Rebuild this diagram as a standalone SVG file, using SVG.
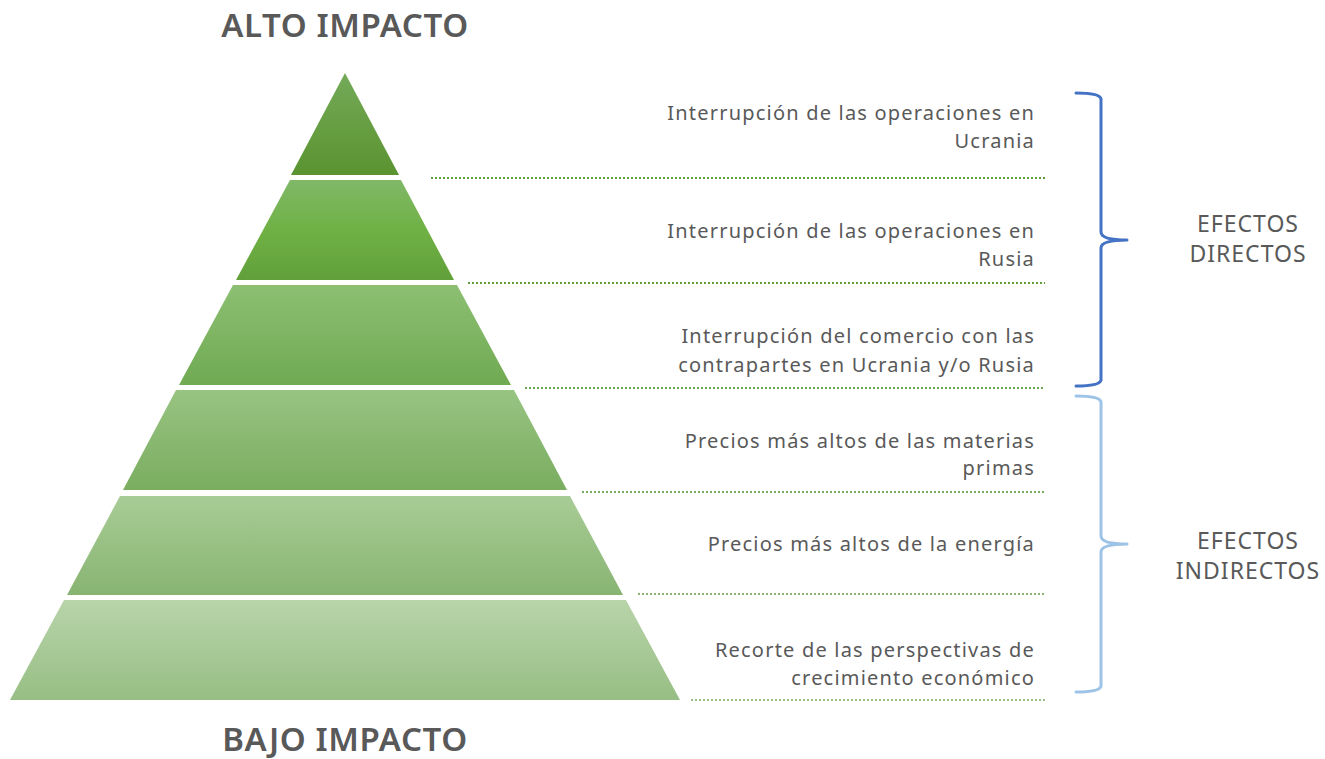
<svg xmlns="http://www.w3.org/2000/svg" width="1325" height="759" viewBox="0 0 1325 759">
<defs>
<linearGradient id="g1" x1="0" y1="0" x2="0" y2="1"><stop offset="0" stop-color="#74aa58"/><stop offset="1" stop-color="#5a9330"/></linearGradient>
<linearGradient id="g2" x1="0" y1="0" x2="0" y2="1"><stop offset="0" stop-color="#80b868"/><stop offset="0.5" stop-color="#70b145"/><stop offset="1" stop-color="#61a03a"/></linearGradient>
<linearGradient id="g3" x1="0" y1="0" x2="0" y2="1"><stop offset="0" stop-color="#8cbf72"/><stop offset="1" stop-color="#70aa52"/></linearGradient>
<linearGradient id="g4" x1="0" y1="0" x2="0" y2="1"><stop offset="0" stop-color="#98c482"/><stop offset="1" stop-color="#7aad60"/></linearGradient>
<linearGradient id="g5" x1="0" y1="0" x2="0" y2="1"><stop offset="0" stop-color="#a8cc96"/><stop offset="1" stop-color="#88b472"/></linearGradient>
<linearGradient id="g6" x1="0" y1="0" x2="0" y2="1"><stop offset="0" stop-color="#b8d4aa"/><stop offset="1" stop-color="#97be84"/></linearGradient>
</defs>
<style>
.lbl{font-family:"Noto Sans","Open Sans",sans-serif;font-size:20px;letter-spacing:1.2px;fill:#595959;text-anchor:end}
.hdr{font-family:"Noto Sans","Open Sans",sans-serif;font-size:33px;font-weight:600;letter-spacing:0.6px;fill:#595959;text-anchor:middle}
.grp{font-family:"Noto Sans","Open Sans",sans-serif;font-size:23px;letter-spacing:1px;fill:#595959;text-anchor:middle}
.dot{stroke-width:2;stroke-dasharray:2 2;fill:none}
.brace{fill:none;stroke-width:3;stroke-linecap:round;stroke-linejoin:round}
</style>
<rect width="1325" height="759" fill="#ffffff"/>
<text class="hdr" x="345" y="37">ALTO IMPACTO</text>
<text class="hdr" x="345" y="751">BAJO IMPACTO</text>
<g id="tier1"><polygon points="345,73 399,175 291,175" fill="url(#g1)"/></g>
<g id="tier2"><polygon points="290,180 401,180 454,280 236,280" fill="url(#g2)"/></g>
<g id="tier3"><polygon points="233,285 457,285 511,385 179,385" fill="url(#g3)"/></g>
<g id="tier4"><polygon points="176,390 514,390 567,490 123,490" fill="url(#g4)"/></g>
<g id="tier5"><polygon points="120,496 570,496 623,595 67,595" fill="url(#g5)"/></g>
<g id="tier6"><polygon points="64,600 626,600 680,700 10,700" fill="url(#g6)"/></g>
<g id="connectors">
<line class="dot" x1="431" y1="178" x2="1045" y2="178" stroke="#5e9c3a"/>
<line class="dot" x1="468" y1="283" x2="1045" y2="283" stroke="#62a03c"/>
<line class="dot" x1="525" y1="388" x2="1045" y2="388" stroke="#6aa74a"/>
<line class="dot" x1="582" y1="492" x2="1045" y2="492" stroke="#78ad5e"/>
<line class="dot" x1="638" y1="594" x2="1045" y2="594" stroke="#88b672"/>
<line class="dot" x1="691" y1="700" x2="1045" y2="700" stroke="#98c085"/>
<path class="brace" stroke="#4472c4" d="M1076,93 Q1100,93 1101,99 L1101,232 Q1101,240 1127,240 Q1101,240 1101,248 L1101,380 Q1100,386 1076,386"/>
<path class="brace" stroke="#9dc3e6" d="M1076,396 Q1100,396 1101,402 L1101,536 Q1101,544 1127,544 Q1101,544 1101,552 L1101,686 Q1100,692 1076,692"/>
</g>
<g id="label1"><text class="lbl" x="1035" y="120">Interrupción de las operaciones en</text><text class="lbl" x="1035" y="148">Ucrania</text></g>
<g id="label2"><text class="lbl" x="1035" y="238">Interrupción de las operaciones en</text><text class="lbl" x="1035" y="266">Rusia</text></g>
<g id="label3"><text class="lbl" x="1035" y="343">Interrupción del comercio con las</text><text class="lbl" x="1035" y="372">contrapartes en Ucrania y/o Rusia</text></g>
<g id="label4"><text class="lbl" x="1035" y="448">Precios más altos de las materias</text><text class="lbl" x="1035" y="475">primas</text></g>
<g id="label5"><text class="lbl" x="1035" y="551">Precios más altos de la energía</text></g>
<g id="label6"><text class="lbl" x="1035" y="657">Recorte de las perspectivas de</text><text class="lbl" x="1035" y="685">crecimiento económico</text></g>
<g id="group1"><text class="grp" x="1248" y="232">EFECTOS</text><text class="grp" x="1248" y="262">DIRECTOS</text></g>
<g id="group2"><text class="grp" x="1248" y="549">EFECTOS</text><text class="grp" x="1248" y="579">INDIRECTOS</text></g>
</svg>
